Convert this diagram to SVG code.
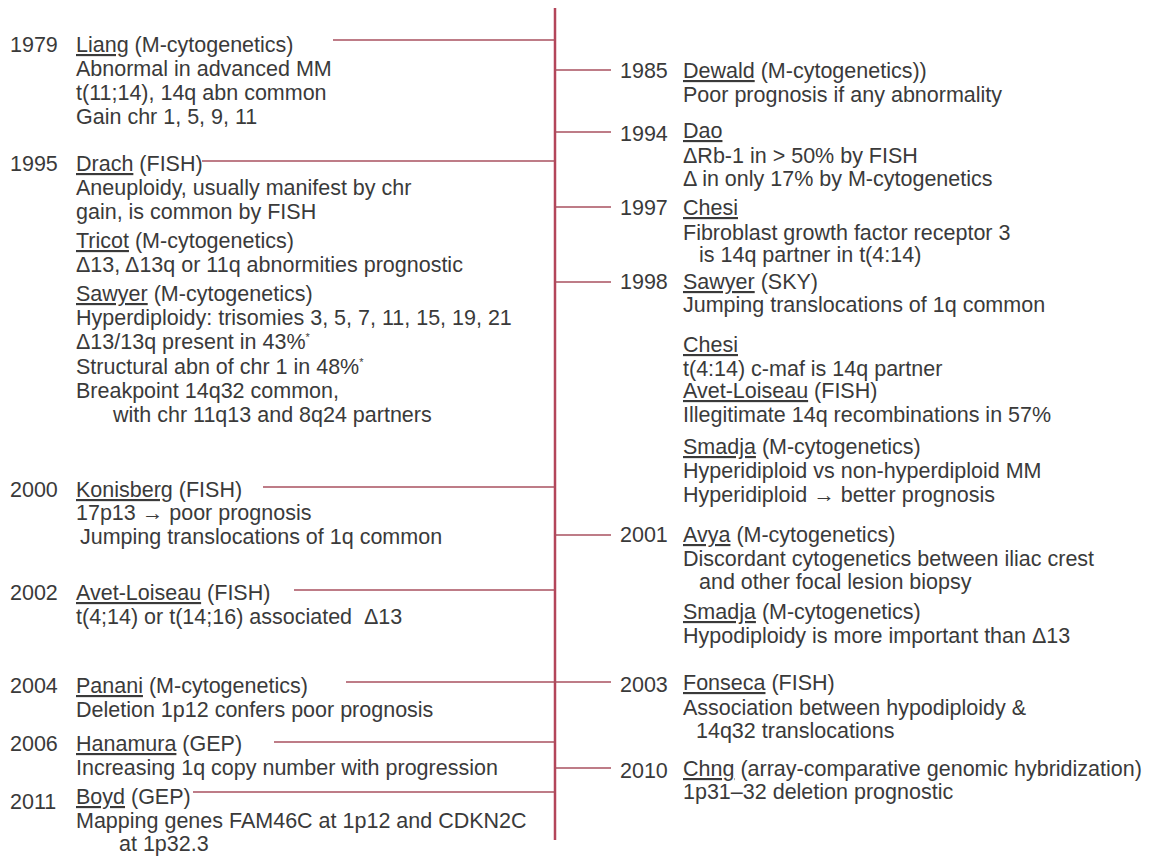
<svg xmlns="http://www.w3.org/2000/svg" width="1150" height="861" viewBox="0 0 1150 861">
<style>
text{font-family:"Liberation Sans",Arial,Helvetica,sans-serif;font-size:21.5px;fill:#3a3a3a}
.u{text-decoration:underline}
.sup{font-size:11px}
.axis{stroke:#b3455a;stroke-width:2.5;fill:none}
.c{stroke:#a9505f;stroke-width:1.6;fill:none}
</style>
<rect width="1150" height="861" fill="#ffffff"/>
<g id="connectors">
<line class="axis" x1="555" y1="8" x2="555" y2="840"/>
<line class="c" x1="333" y1="40" x2="555" y2="40"/>
<line class="c" x1="202" y1="161" x2="555" y2="161"/>
<line class="c" x1="263" y1="487" x2="555" y2="487"/>
<line class="c" x1="294" y1="590" x2="555" y2="590"/>
<line class="c" x1="346" y1="682" x2="555" y2="682"/>
<line class="c" x1="274" y1="742" x2="555" y2="742"/>
<line class="c" x1="193" y1="792" x2="555" y2="792"/>
<line class="c" x1="555" y1="70" x2="611" y2="70"/>
<line class="c" x1="555" y1="132" x2="611" y2="132"/>
<line class="c" x1="555" y1="207" x2="611" y2="207"/>
<line class="c" x1="555" y1="282" x2="611" y2="282"/>
<line class="c" x1="555" y1="535" x2="611" y2="535"/>
<line class="c" x1="555" y1="682" x2="611" y2="682"/>
<line class="c" x1="555" y1="768" x2="611" y2="768"/>
</g>
<g id="e1979">
<text x="10" y="52">1979</text>
<text x="76" y="52"><tspan class="u">Liang</tspan> (M-cytogenetics)</text>
<text x="76" y="76">Abnormal in advanced MM</text>
<text x="76" y="100">t(11;14), 14q abn common</text>
<text x="76" y="124">Gain chr 1, 5, 9, 11</text>
</g>
<g id="e1995">
<text x="10" y="171">1995</text>
<text x="76" y="171"><tspan class="u">Drach</tspan> (FISH)</text>
<text x="76" y="195">Aneuploidy, usually manifest by chr</text>
<text x="76" y="219">gain, is common by FISH</text>
<text x="76" y="248"><tspan class="u">Tricot</tspan> (M-cytogenetics)</text>
<text x="76" y="272">Δ13, Δ13q or 11q abnormities prognostic</text>
<text x="76" y="301"><tspan class="u">Sawyer</tspan> (M-cytogenetics)</text>
<text x="76" y="325">Hyperdiploidy: trisomies 3, 5, 7, 11, 15, 19, 21</text>
<text x="76" y="349">Δ13/13q present in 43%<tspan class="sup" dy="-8">*</tspan></text>
<text x="76" y="374">Structural abn of chr 1 in 48%<tspan class="sup" dy="-8">*</tspan></text>
<text x="76" y="398">Breakpoint 14q32 common,</text>
<text x="113" y="422">with chr 11q13 and 8q24 partners</text>
</g>
<g id="e2000">
<text x="10" y="497">2000</text>
<text x="76" y="497"><tspan class="u">Konisberg</tspan> (FISH)</text>
<text x="76" y="520">17p13 → poor prognosis</text>
<text x="80" y="544">Jumping translocations of 1q common</text>
</g>
<g id="e2002">
<text x="10" y="600">2002</text>
<text x="76" y="600"><tspan class="u">Avet-Loiseau</tspan> (FISH)</text>
<text x="76" y="624" xml:space="preserve">t(4;14) or t(14;16) associated  Δ13</text>
</g>
<g id="e2004">
<text x="10" y="693">2004</text>
<text x="76" y="693"><tspan class="u">Panani</tspan> (M-cytogenetics)</text>
<text x="76" y="717">Deletion 1p12 confers poor prognosis</text>
</g>
<g id="e2006">
<text x="10" y="751">2006</text>
<text x="76" y="751"><tspan class="u">Hanamura</tspan> (GEP)</text>
<text x="76" y="775">Increasing 1q copy number with progression</text>
</g>
<g id="e2011">
<text x="10" y="809">2011</text>
<text x="76" y="804"><tspan class="u">Boyd</tspan> (GEP)</text>
<text x="76" y="828">Mapping genes FAM46C at 1p12 and CDKN2C</text>
<text x="119" y="851">at 1p32.3</text>
</g>
<g id="e1985">
<text x="620" y="78">1985</text>
<text x="683" y="78"><tspan class="u">Dewald</tspan> (M-cytogenetics))</text>
<text x="683" y="102">Poor prognosis if any abnormality</text>
</g>
<g id="e1994">
<text x="620" y="141">1994</text>
<text x="683" y="138"><tspan class="u">Dao</tspan></text>
<text x="683" y="163">ΔRb-1 in &gt; 50% by FISH</text>
<text x="683" y="186">Δ in only 17% by M-cytogenetics</text>
</g>
<g id="e1997">
<text x="620" y="215">1997</text>
<text x="683" y="215"><tspan class="u">Chesi</tspan></text>
<text x="683" y="240">Fibroblast growth factor receptor 3</text>
<text x="699" y="262">is 14q partner in t(4:14)</text>
</g>
<g id="e1998">
<text x="620" y="289">1998</text>
<text x="683" y="289"><tspan class="u">Sawyer</tspan> (SKY)</text>
<text x="683" y="312">Jumping translocations of 1q common</text>
<text x="683" y="352"><tspan class="u">Chesi</tspan></text>
<text x="683" y="376">t(4:14) c-maf is 14q partner</text>
<text x="683" y="398"><tspan class="u">Avet-Loiseau</tspan> (FISH)</text>
<text x="683" y="422">Illegitimate 14q recombinations in 57%</text>
<text x="683" y="454"><tspan class="u">Smadja</tspan> (M-cytogenetics)</text>
<text x="683" y="478">Hyperidiploid vs non-hyperdiploid MM</text>
<text x="683" y="502">Hyperidiploid → better prognosis</text>
</g>
<g id="e2001">
<text x="620" y="542">2001</text>
<text x="683" y="542"><tspan class="u">Avya</tspan> (M-cytogenetics)</text>
<text x="683" y="566">Discordant cytogenetics between iliac crest</text>
<text x="699" y="589">and other focal lesion biopsy</text>
<text x="683" y="619"><tspan class="u">Smadja</tspan> (M-cytogenetics)</text>
<text x="683" y="643">Hypodiploidy is more important than Δ13</text>
</g>
<g id="e2003">
<text x="620" y="692">2003</text>
<text x="683" y="690"><tspan class="u">Fonseca</tspan> (FISH)</text>
<text x="683" y="715">Association between hypodiploidy &amp;</text>
<text x="696" y="738">14q32 translocations</text>
</g>
<g id="e2010">
<text x="620" y="778">2010</text>
<text x="683" y="776"><tspan class="u">Chng</tspan> (array-comparative genomic hybridization)</text>
<text x="683" y="799">1p31–32 deletion prognostic</text>
</g>
</svg>
